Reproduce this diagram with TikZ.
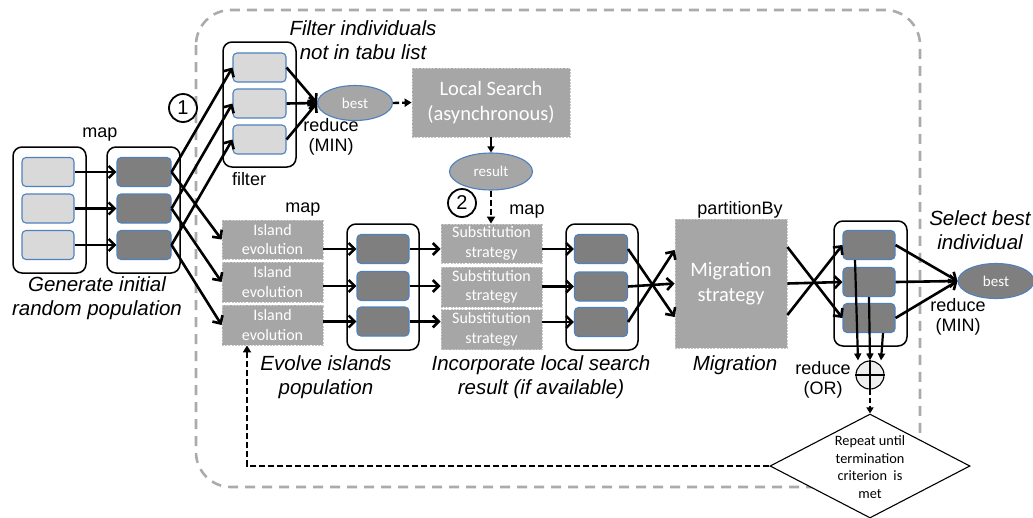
\documentclass[tikz,border=0pt]{standalone}
\usepackage{fontspec}
\setmainfont{Liberation Sans}
\newfontfamily\calfont{Carlito}
\usetikzlibrary{arrows.meta,shapes.geometric,calc}
\definecolor{lightfill}{HTML}{D9D9D9}
\definecolor{darkfill}{HTML}{7F7F7F}
\definecolor{midfill}{HTML}{A6A6A6}
\definecolor{edgeblue}{HTML}{4F81BD}
\definecolor{procedge}{HTML}{C8C8C8}
\definecolor{regiongray}{HTML}{ABABAB}
\definecolor{orfill}{HTML}{EEEEEE}
\tikzset{
  col/.style={draw=black, line width=1.5pt, rounded corners=9pt, minimum width=73pt, minimum height=126pt, inner sep=0},
  lcell/.style={draw=edgeblue, fill=lightfill, line width=1.1pt, rounded corners=4pt, minimum width=52pt, minimum height=29pt, inner sep=0},
  dcell/.style={lcell, fill=darkfill},
  gproc/.style={fill=midfill, draw=procedge, dash pattern=on 2pt off 1.2pt, line width=0.8pt, text=white, font=\calfont\fontsize{16}{19.5}\selectfont, align=center, inner sep=0},
  lbl/.style={font=\fontsize{18}{20}\selectfont, align=center, inner sep=0},
  capt/.style={font=\fontsize{20.5}{23.5}\selectfont\itshape, align=center, inner sep=0},
  flow/.style={line width=2.6pt, -{Straight Barb[length=6pt,width=12pt]}},
  thinflow/.style={line width=2.2pt, -{Triangle[length=7pt,width=7pt]}},
  dflow/.style={line width=2.4pt, dash pattern=on 6pt off 3pt, -{Triangle[length=7pt,width=8pt]}},
  num/.style={circle, draw, line width=1.8pt, minimum size=28pt, inner sep=0, font=\fontsize{20}{20}\selectfont},
  oval/.style={ellipse, draw=edgeblue, line width=1.1pt, text=white, inner sep=0, font=\calfont\fontsize{15}{15}\selectfont},
}
\begin{document}
\begin{tikzpicture}[x=1pt,y=-1pt]
\useasboundingbox (0,0) rectangle (1033,517);

% iteration region
\draw[regiongray, line width=2.6pt, dash pattern=on 10pt off 7pt, rounded corners=35pt]
  (196,10) rectangle (920,487);

% initial population
\node[col] (c1) at (49.5,210) {};
\node[lcell] (l1) at (48,172) {};
\node[lcell] (l2) at (48,208.5) {};
\node[lcell] (l3) at (48,245) {};
\node[col] (c2) at (143.5,210) {};
\node[dcell, minimum width=54pt] (d1) at (144,172) {};
\node[dcell, minimum width=54pt] (d2) at (144,208.5) {};
\node[dcell, minimum width=54pt] (d3) at (144,245) {};
\node[lbl] (map1) at (100,135) {map};
\node[capt] (gen) at (97,298) {Generate initial\\random population};

% tabu filter
\node[col, minimum height=125pt] (fc) at (259.5,104.5) {};
\node[lcell, minimum width=53pt] (f1) at (259.5,67.5) {};
\node[lcell, minimum width=53pt] (f2) at (259.5,103.5) {};
\node[lcell, minimum width=53pt] (f3) at (259.5,139.5) {};
\node[lbl] (filt) at (249,179) {filter};
\node[capt] (filtcap) at (363,40) {Filter individuals\\not in tabu list};
\node[num] (n1) at (183,108) {1};

% local search
\node[oval, fill=midfill, minimum width=75pt, minimum height=35pt] (best1) at (355,103) {best};
\node[lbl] (red1) at (331,137) {reduce\\(MIN)};
\node[gproc, minimum width=158pt, minimum height=69pt, font=\calfont\fontsize{20.5}{25}\selectfont] (ls) at (491,102.5) {Local Search\\(asynchronous)};
\node[oval, fill=midfill, minimum width=83pt, minimum height=37pt] (res) at (491,171.5) {result};
\node[num] (n2) at (462,203) {2};

% island evolution
\node[lbl] (map2) at (303,210) {map};
\node[gproc, minimum width=101pt, minimum height=39pt] (i1) at (272.5,239.5) {Island\\evolution};
\node[gproc, minimum width=101pt, minimum height=40pt] (i2) at (272.5,282) {Island\\evolution};
\node[gproc, minimum width=101pt, minimum height=40pt] (i3) at (272.5,325) {Island\\evolution};
\node[col, minimum width=72pt] (c3) at (383,287) {};
\node[dcell] (e1) at (383,249) {};
\node[dcell] (e2) at (383,286) {};
\node[dcell] (e3) at (383,321.5) {};
\node[capt] (evcap) at (326,377) {Evolve islands\\population};

% substitution
\node[lbl] (map3) at (527,212) {map};
\node[gproc, minimum width=101pt, minimum height=39pt] (s1) at (491.5,243.5) {Substitution\\strategy};
\node[gproc, minimum width=101pt, minimum height=40pt] (s2) at (491.5,287) {Substitution\\strategy};
\node[gproc, minimum width=101pt, minimum height=40pt] (s3) at (491.5,329.5) {Substitution\\strategy};
\node[col, minimum width=72pt] (c4) at (602,287) {};
\node[dcell, minimum width=53pt] (g1) at (601,249) {};
\node[dcell, minimum width=53pt] (g2) at (601,286.5) {};
\node[dcell, minimum width=53pt] (g3) at (601,322) {};
\node[capt] (subcap) at (541,377) {Incorporate local search\\result (if available)};

% migration
\node[lbl] (part) at (740,210) {partitionBy};
\node[gproc, minimum width=112pt, minimum height=129pt, font=\calfont\fontsize{20.5}{25}\selectfont] (mig) at (731,283.5) {Migration\\strategy};
\node[capt] (migcap) at (735,365) {Migration};

% selection
\node[col, minimum height=125pt] (c5) at (870.5,283.5) {};
\node[dcell] (h1) at (869,245) {};
\node[dcell] (h2) at (869,282) {};
\node[dcell] (h3) at (869,318) {};
\node[oval, fill=darkfill, minimum width=76pt, minimum height=35pt] (best2) at (996,281) {best};
\node[lbl] (red2) at (958,317) {reduce\\(MIN)};
\node[capt] (selcap) at (980,230) {Select best\\individual};
\node[circle, draw, fill=orfill, line width=1.1pt, minimum size=28pt, inner sep=0] (orc) at (870,375) {};
\draw[line width=1.1pt] (orc.north) -- (orc.south) (orc.west) -- (orc.east);
\node[lbl] (red3) at (823,380) {reduce\\(OR)};

% termination test
\node[diamond, draw, fill=white, line width=1.1pt, minimum width=200pt, minimum height=104pt, inner sep=0] (dm) at (870,466) {};
\node[font=\calfont\fontsize{14.3}{17.7}\selectfont, align=center, inner sep=0] (dmt) at (870,467) {Repeat until\\termination\\criterion~ is\\met};

% connectors
\foreach \a/\b in {l1/d1,l2/d2,l3/d3}
  \draw[flow] (\a.east) -- (\b.west);
\foreach \a/\b/\c in {d1/f1/i1,d2/f2/i2,d3/f3/i3} {
  \draw[flow] (\a.east) -- (\b.west);
  \draw[flow] (\a.east) -- (\c.west);
}
\foreach \a in {f1,f2,f3}
  \draw[flow] (\a.east) -- (best1.west);
\draw[dflow] (best1.east) -- (ls.west);
\draw[line width=1.6pt, -{Triangle[length=6pt,width=7pt]}] (ls.south) -- (res.north);
\draw[dflow] (res.south) -- (s1.north -| res.south);
\foreach \a/\b in {i1/e1,i2/e2,i3/e3}
  \draw[flow] (\a.east |- \b) -- (\b.west);
\foreach \a/\b in {e1/s1,e2/s2,e3/s3}
  \draw[flow] (\a.east) -- (\b.west |- \a);
\foreach \a/\b in {s1/g1,s2/g2,s3/g3}
  \draw[flow] (\a.east |- \b) -- (\b.west);
\draw[flow] (g1.east) -- ($(mig.west)+(0,33.5)$);
\draw[flow] (g2.east) -- (mig.west);
\draw[flow] (g3.east) -- ($(mig.west)+(0,-33.5)$);
\draw[flow] ($(mig.east)+(0,-36.5)$) -- (h3.west);
\draw[flow] (mig.east) -- (h2.west);
\draw[flow] ($(mig.east)+(0,31.5)$) -- (h1.west);
\foreach \a in {h1,h2,h3}
  \draw[flow] (\a.east) -- (best2.west);
\draw[thinflow] ($(h1.south)+(-14,0)$) -- ($(orc.north)+(-12,0)$);
\draw[thinflow] (h2.south) -- (orc.north);
\draw[thinflow] ($(h3.south)+(14,0)$) -- ($(orc.north)+(11,0)$);
\draw[line width=1.8pt, dash pattern=on 5pt off 3pt, -{Triangle[length=6pt,width=7pt]}] (orc.south) -- (dm.north);
\coordinate (fbturn) at (247,466);
\draw[dflow] (dm.west) -- (fbturn) -- (fbturn |- i3.south);
\end{tikzpicture}
\end{document}
